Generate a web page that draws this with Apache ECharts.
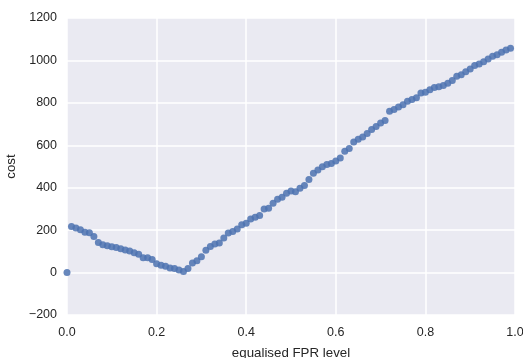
<!DOCTYPE html>
<html>
<head>
<meta charset="utf-8">
<script src="https://cdn.jsdelivr.net/npm/echarts@6/dist/echarts.min.js"></script>
<style>
  html, body { margin: 0; padding: 0; background: #fff; }
  #chart { width: 523px; height: 358px; }
</style>
</head>
<body>
<div id="chart"></div>
<script>
// FPR levels 0.00 .. 0.99
var fprLevels = [];
for (var i = 0; i < 100; i++) fprLevels.push(+(i / 100).toFixed(2));

// cost, one per FPR level
var costValues = [
  0, 217, 210, 202, 190, 188, 170, 142, 131, 126,
  122, 118, 112, 106, 102, 93, 86, 70, 70, 62,
  41, 34, 30, 22, 19, 12, 5, 19, 45, 56,
  74, 105, 123, 135, 139, 163, 186, 194, 205, 225,
  233, 253, 261, 269, 300, 303, 327, 346, 355, 374,
  385, 381, 397, 410, 439, 468, 483, 499, 510, 514,
  526, 540, 572, 585, 616, 628, 639, 655, 674, 689,
  705, 717, 760, 769, 780, 791, 808, 816, 824, 846,
  850, 862, 872, 876, 882, 893, 905, 925, 932, 947,
  960, 976, 983, 994, 1007, 1020, 1027, 1038, 1049, 1057
];

var xTicks = [0, 0.2, 0.4, 0.6, 0.8, 1.0];
var yTicks = [-200, 0, 200, 400, 600, 800, 1000, 1200];

var points = fprLevels.map(function (x, i) { return [x, costValues[i]]; });

var textColor = '#262626';
var font = 'Liberation Sans, Arial, Helvetica, sans-serif';

var dom = document.getElementById('chart');
var myChart = echarts.init(dom);
var option = {
  backgroundColor: '#ffffff',
  animation: false,
  grid: {
    left: 67, right: 8, top: 18, bottom: 43,
    outerBoundsMode: 'none',
    show: true, backgroundColor: '#EAEAF2', borderWidth: 0
  },
  xAxis: {
    type: 'value',
    min: xTicks[0], max: xTicks[xTicks.length - 1], interval: 0.2,
    name: 'equalised FPR level',
    nameLocation: 'middle', nameGap: 32,
    nameTextStyle: { color: textColor, fontSize: 13.3, fontFamily: font },
    axisLine: { show: false },
    axisTick: { show: false },
    axisLabel: {
      color: textColor, fontSize: 12.5, fontFamily: font, margin: 11,
      formatter: function (v) { return v.toFixed(1); }
    },
    splitLine: { show: true, lineStyle: { color: '#ffffff', width: 1.5 } }
  },
  yAxis: {
    type: 'value',
    min: yTicks[0], max: yTicks[yTicks.length - 1], interval: 200,
    name: 'cost',
    nameLocation: 'middle', nameGap: 44,
    nameTextStyle: { color: textColor, fontSize: 13.3, fontFamily: font },
    axisLine: { show: false },
    axisTick: { show: false },
    axisLabel: {
      color: textColor, fontSize: 12.5, fontFamily: font, margin: 10,
      formatter: function (v) { return v < 0 ? '\u2212' + Math.abs(v) : String(v); }
    },
    splitLine: { show: true, lineStyle: { color: '#ffffff', width: 1.5 } }
  },
  series: [{
    type: 'scatter',
    data: points,
    symbolSize: 7,
    itemStyle: { color: '#4C72B0', opacity: 0.85 },
    clip: true
  }]
};
myChart.setOption(option, true);
</script>
</body>
</html>
